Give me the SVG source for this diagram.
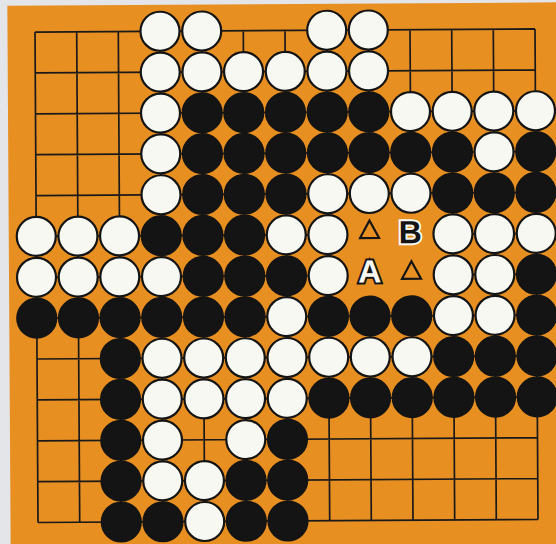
<svg xmlns="http://www.w3.org/2000/svg" xmlns:xlink="http://www.w3.org/1999/xlink" width="556" height="544" viewBox="0 0 556 544">
<style>
.grid{fill:none;stroke:#1a1a1a;stroke-width:1.7}
.ws{fill:#f8f8f3;stroke:#141414;stroke-width:2.2}
.bs{fill:#141414;stroke:#141414;stroke-width:2.2}
.mk{fill:none;stroke:#141414;stroke-width:2.2}
.gap{fill:#e88f22}
.lbl{font-family:"Liberation Sans",Arial,sans-serif;font-weight:bold;font-size:32px;text-anchor:middle;paint-order:stroke}
</style>
<defs>
<circle id="w" r="19.5" class="ws"/>
<circle id="b" r="19.5" class="bs"/>
<polygon id="tri" points="0,-11 9.5,6.5 -9.5,6.5" class="mk"/>
</defs>
<rect x="0" y="0" width="556" height="544" fill="#e3e5e9"/>
<g transform="rotate(-0.35 286 276)">
<rect x="9" y="4" width="560" height="550" fill="#e88f22"/>
<g id="grid">
<path class="grid" d="M36.5 30.5H536.5M36.5 71.4H536.5M36.5 112.3H536.5M36.5 153.1H536.5M36.5 194H536.5M36.5 234.9H536.5M36.5 275.8H536.5M36.5 316.6H536.5M36.5 357.5H536.5M36.5 398.4H536.5M36.5 439.3H536.5M36.5 480.1H536.5M36.5 521H536.5M36.5 30.5V521M78.2 30.5V521M119.8 30.5V521M161.5 30.5V521M203.2 30.5V521M244.8 30.5V521M286.5 30.5V521M328.2 30.5V521M369.8 30.5V521M411.5 30.5V521M453.2 30.5V521M494.8 30.5V521M536.5 30.5V521"/>
</g>
<g id="marker-gaps">
<circle class="gap" cx="369.8" cy="234.9" r="22"/>
<circle class="gap" cx="411.5" cy="234.9" r="22"/>
<circle class="gap" cx="369.8" cy="275.8" r="22"/>
<circle class="gap" cx="411.5" cy="275.8" r="22"/>
</g>
<g id="white-stones">
<use xlink:href="#w" x="161.5" y="30.5"/><use xlink:href="#w" x="203.2" y="30.5"/><use xlink:href="#w" x="328.2" y="30.5"/><use xlink:href="#w" x="369.8" y="30.5"/>
<use xlink:href="#w" x="161.5" y="71.4"/><use xlink:href="#w" x="203.2" y="71.4"/><use xlink:href="#w" x="244.8" y="71.4"/><use xlink:href="#w" x="286.5" y="71.4"/><use xlink:href="#w" x="328.2" y="71.4"/><use xlink:href="#w" x="369.8" y="71.4"/>
<use xlink:href="#w" x="161.5" y="112.3"/><use xlink:href="#w" x="411.5" y="112.3"/><use xlink:href="#w" x="453.2" y="112.3"/><use xlink:href="#w" x="494.8" y="112.3"/><use xlink:href="#w" x="536.5" y="112.3"/>
<use xlink:href="#w" x="161.5" y="153.1"/><use xlink:href="#w" x="494.8" y="153.1"/>
<use xlink:href="#w" x="161.5" y="194"/><use xlink:href="#w" x="328.2" y="194"/><use xlink:href="#w" x="369.8" y="194"/><use xlink:href="#w" x="411.5" y="194"/>
<use xlink:href="#w" x="36.5" y="234.9"/><use xlink:href="#w" x="78.2" y="234.9"/><use xlink:href="#w" x="119.8" y="234.9"/><use xlink:href="#w" x="286.5" y="234.9"/><use xlink:href="#w" x="328.2" y="234.9"/><use xlink:href="#w" x="453.2" y="234.9"/><use xlink:href="#w" x="494.8" y="234.9"/><use xlink:href="#w" x="536.5" y="234.9"/>
<use xlink:href="#w" x="36.5" y="275.8"/><use xlink:href="#w" x="78.2" y="275.8"/><use xlink:href="#w" x="119.8" y="275.8"/><use xlink:href="#w" x="161.5" y="275.8"/><use xlink:href="#w" x="328.2" y="275.8"/><use xlink:href="#w" x="453.2" y="275.8"/><use xlink:href="#w" x="494.8" y="275.8"/>
<use xlink:href="#w" x="286.5" y="316.6"/><use xlink:href="#w" x="453.2" y="316.6"/><use xlink:href="#w" x="494.8" y="316.6"/>
<use xlink:href="#w" x="161.5" y="357.5"/><use xlink:href="#w" x="203.2" y="357.5"/><use xlink:href="#w" x="244.8" y="357.5"/><use xlink:href="#w" x="286.5" y="357.5"/><use xlink:href="#w" x="328.2" y="357.5"/><use xlink:href="#w" x="369.8" y="357.5"/><use xlink:href="#w" x="411.5" y="357.5"/>
<use xlink:href="#w" x="161.5" y="398.4"/><use xlink:href="#w" x="203.2" y="398.4"/><use xlink:href="#w" x="244.8" y="398.4"/><use xlink:href="#w" x="286.5" y="398.4"/>
<use xlink:href="#w" x="161.5" y="439.3"/><use xlink:href="#w" x="244.8" y="439.3"/>
<use xlink:href="#w" x="161.5" y="480.1"/><use xlink:href="#w" x="203.2" y="480.1"/>
<use xlink:href="#w" x="203.2" y="521"/>
</g>
<g id="black-stones">
<use xlink:href="#b" x="203.2" y="112.3"/><use xlink:href="#b" x="244.8" y="112.3"/><use xlink:href="#b" x="286.5" y="112.3"/><use xlink:href="#b" x="328.2" y="112.3"/><use xlink:href="#b" x="369.8" y="112.3"/>
<use xlink:href="#b" x="203.2" y="153.1"/><use xlink:href="#b" x="244.8" y="153.1"/><use xlink:href="#b" x="286.5" y="153.1"/><use xlink:href="#b" x="328.2" y="153.1"/><use xlink:href="#b" x="369.8" y="153.1"/><use xlink:href="#b" x="411.5" y="153.1"/><use xlink:href="#b" x="453.2" y="153.1"/><use xlink:href="#b" x="536.5" y="153.1"/>
<use xlink:href="#b" x="203.2" y="194"/><use xlink:href="#b" x="244.8" y="194"/><use xlink:href="#b" x="286.5" y="194"/><use xlink:href="#b" x="453.2" y="194"/><use xlink:href="#b" x="494.8" y="194"/><use xlink:href="#b" x="536.5" y="194"/>
<use xlink:href="#b" x="161.5" y="234.9"/><use xlink:href="#b" x="203.2" y="234.9"/><use xlink:href="#b" x="244.8" y="234.9"/>
<use xlink:href="#b" x="203.2" y="275.8"/><use xlink:href="#b" x="244.8" y="275.8"/><use xlink:href="#b" x="286.5" y="275.8"/><use xlink:href="#b" x="536.5" y="275.8"/>
<use xlink:href="#b" x="36.5" y="316.6"/><use xlink:href="#b" x="78.2" y="316.6"/><use xlink:href="#b" x="119.8" y="316.6"/><use xlink:href="#b" x="161.5" y="316.6"/><use xlink:href="#b" x="203.2" y="316.6"/><use xlink:href="#b" x="244.8" y="316.6"/><use xlink:href="#b" x="328.2" y="316.6"/><use xlink:href="#b" x="369.8" y="316.6"/><use xlink:href="#b" x="411.5" y="316.6"/><use xlink:href="#b" x="536.5" y="316.6"/>
<use xlink:href="#b" x="119.8" y="357.5"/><use xlink:href="#b" x="453.2" y="357.5"/><use xlink:href="#b" x="494.8" y="357.5"/><use xlink:href="#b" x="536.5" y="357.5"/>
<use xlink:href="#b" x="119.8" y="398.4"/><use xlink:href="#b" x="328.2" y="398.4"/><use xlink:href="#b" x="369.8" y="398.4"/><use xlink:href="#b" x="411.5" y="398.4"/><use xlink:href="#b" x="453.2" y="398.4"/><use xlink:href="#b" x="494.8" y="398.4"/><use xlink:href="#b" x="536.5" y="398.4"/>
<use xlink:href="#b" x="119.8" y="439.3"/><use xlink:href="#b" x="286.5" y="439.3"/>
<use xlink:href="#b" x="119.8" y="480.1"/><use xlink:href="#b" x="244.8" y="480.1"/><use xlink:href="#b" x="286.5" y="480.1"/>
<use xlink:href="#b" x="119.8" y="521"/><use xlink:href="#b" x="161.5" y="521"/><use xlink:href="#b" x="244.8" y="521"/><use xlink:href="#b" x="286.5" y="521"/>
</g>
<g id="markers">
<use xlink:href="#tri" x="369.8" y="232"/>
<use xlink:href="#tri" x="411.5" y="273"/>
<text class="lbl" x="410.5" y="244" fill="#141414" stroke="#f8f8f3" stroke-width="4">B</text>
<text class="lbl" x="369.8" y="283" fill="#f8f8f3" stroke="#141414" stroke-width="4">A</text>
</g>
</g>
</svg>
